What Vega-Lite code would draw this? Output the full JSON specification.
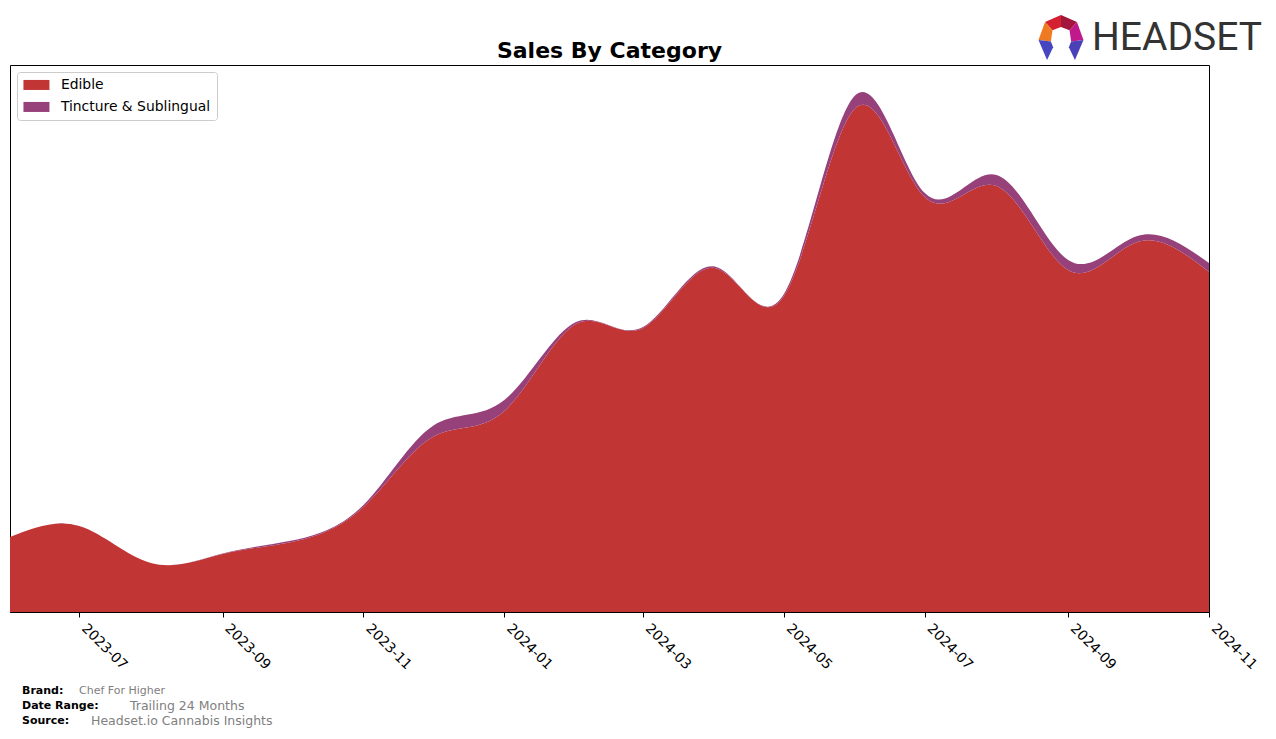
{
  "$schema": "https://vega.github.io/schema/vega-lite/v6.json",
  "width": 1199,
  "height": 547,
  "autosize": "none",
  "padding": {"left": 10, "top": 65, "right": 67, "bottom": 127},
  "background": "white",
  "config": {
    "font": "DejaVu Sans",
    "view": {"stroke": "black", "strokeWidth": 1}
  },
  "title": {
    "text": "Sales By Category",
    "fontSize": 22,
    "fontWeight": "bold",
    "font": "DejaVu Sans",
    "color": "black",
    "anchor": "middle",
    "offset": 8,
    "dy": 56
  },
  "datasets": {
    "sales": [
      {"date": "2023-06-01", "category": "Edible", "sales": 7500},
      {"date": "2023-07-01", "category": "Edible", "sales": 8600},
      {"date": "2023-08-01", "category": "Edible", "sales": 4900},
      {"date": "2023-09-01", "category": "Edible", "sales": 5800},
      {"date": "2023-10-01", "category": "Edible", "sales": 7000},
      {"date": "2023-11-01", "category": "Edible", "sales": 10500},
      {"date": "2023-12-01", "category": "Edible", "sales": 17500},
      {"date": "2024-01-01", "category": "Edible", "sales": 20100},
      {"date": "2024-02-01", "category": "Edible", "sales": 28800},
      {"date": "2024-03-01", "category": "Edible", "sales": 28400},
      {"date": "2024-04-01", "category": "Edible", "sales": 34400},
      {"date": "2024-05-01", "category": "Edible", "sales": 31600},
      {"date": "2024-06-01", "category": "Edible", "sales": 50400},
      {"date": "2024-07-01", "category": "Edible", "sales": 41500},
      {"date": "2024-08-01", "category": "Edible", "sales": 42600},
      {"date": "2024-09-01", "category": "Edible", "sales": 34200},
      {"date": "2024-10-01", "category": "Edible", "sales": 37000},
      {"date": "2024-11-01", "category": "Edible", "sales": 34000},
      {"date": "2023-06-01", "category": "Tincture & Sublingual", "sales": 0},
      {"date": "2023-07-01", "category": "Tincture & Sublingual", "sales": 0},
      {"date": "2023-08-01", "category": "Tincture & Sublingual", "sales": 0},
      {"date": "2023-09-01", "category": "Tincture & Sublingual", "sales": 50},
      {"date": "2023-10-01", "category": "Tincture & Sublingual", "sales": 150},
      {"date": "2023-11-01", "category": "Tincture & Sublingual", "sales": 200},
      {"date": "2023-12-01", "category": "Tincture & Sublingual", "sales": 1100},
      {"date": "2024-01-01", "category": "Tincture & Sublingual", "sales": 1100},
      {"date": "2024-02-01", "category": "Tincture & Sublingual", "sales": 200},
      {"date": "2024-03-01", "category": "Tincture & Sublingual", "sales": 100},
      {"date": "2024-04-01", "category": "Tincture & Sublingual", "sales": 150},
      {"date": "2024-05-01", "category": "Tincture & Sublingual", "sales": 200},
      {"date": "2024-06-01", "category": "Tincture & Sublingual", "sales": 1300},
      {"date": "2024-07-01", "category": "Tincture & Sublingual", "sales": 400},
      {"date": "2024-08-01", "category": "Tincture & Sublingual", "sales": 1100},
      {"date": "2024-09-01", "category": "Tincture & Sublingual", "sales": 1000},
      {"date": "2024-10-01", "category": "Tincture & Sublingual", "sales": 600},
      {"date": "2024-11-01", "category": "Tincture & Sublingual", "sales": 900}
    ],
    "footer": [
      {"label": "Brand:", "value": "Chef For Higher", "row": 0},
      {"label": "Date Range:", "value": "Trailing 24 Months", "row": 1},
      {"label": "Source:", "value": "Headset.io Cannabis Insights", "row": 2}
    ],
    "logo": [
      {"part": "a", "color": "#d42030"},
      {"part": "b", "color": "#a3153a"},
      {"part": "c", "color": "#f07a22"},
      {"part": "d", "color": "#c0198c"},
      {"part": "e", "color": "#4646c0"},
      {"part": "f", "color": "#4a40b8"}
    ]
  },
  "layer": [
    {
      "data": {"name": "sales"},
      "mark": {"type": "area", "interpolate": "natural"},
      "encoding": {
        "x": {
          "field": "date",
          "type": "temporal",
          "timeUnit": "utcyearmonth",
          "scale": {"domain": [{"year": 2023, "month": 6, "date": 1, "utc": true}, {"year": 2024, "month": 11, "date": 1, "utc": true}], "nice": false},
          "axis": {
            "title": null,
            "format": "%Y-%m",
            "tickCount": {"interval": "month", "step": 2},
            "labelAngle": 45,
            "labelAlign": "left",
            "labelBaseline": "top",
            "labelFontSize": 13.9,
            "labelColor": "black",
            "labelPadding": 4,
            "labelOffset": 9,
            "labelFont": "DejaVu Sans",
            "tickColor": "black",
            "tickSize": 5,
            "domainColor": "black",
            "grid": false,
            "labelOverlap": false
          }
        },
        "y": {
          "field": "sales",
          "type": "quantitative",
          "aggregate": "sum",
          "stack": "zero",
          "scale": {"domain": [0, 54700], "nice": false},
          "axis": null
        },
        "color": {
          "field": "category",
          "type": "nominal",
          "scale": {"domain": ["Edible", "Tincture & Sublingual"], "range": ["#c13535", "#97417a"]},
          "legend": {
            "title": null,
            "orient": "top-left",
            "offset": 7,
            "fillColor": "white",
            "strokeColor": "#cccccc",
            "cornerRadius": 3,
            "padding": 6,
            "symbolType": "M-2,-0.77H2V0.77H-2Z",
            "symbolSize": 169,
            "symbolOffset": 6.5,
            "symbolStrokeWidth": 0,
            "symbolOpacity": 1,
            "labelFontSize": 13.9,
            "labelColor": "black",
            "labelFont": "DejaVu Sans",
            "labelOffset": 17.5,
            "rowPadding": 7
          }
        },
        "order": {"field": "category", "sort": "ascending"}
      }
    },
    {
      "data": {"name": "footer"},
      "mark": {"type": "text", "align": "left", "baseline": "middle", "fontSize": 11, "fontWeight": "bold", "color": "black", "x": 12},
      "encoding": {
        "y": {"field": "row", "type": "quantitative", "scale": {"domain": [0, 2], "range": [626, 656]}, "axis": null},
        "text": {"field": "label"}
      }
    },
    {
      "data": {"name": "footer"},
      "transform": [{"calculate": "datum.row == 0 ? 69 : (datum.row == 1 ? 120 : 81)", "as": "xoff"}],
      "mark": {"type": "text", "align": "left", "baseline": "middle", "color": "#808080"},
      "encoding": {
        "x": {"field": "xoff", "type": "quantitative", "scale": {"domain": [0, 1199], "range": [0, 1199]}, "axis": null},
        "y": {"field": "row", "type": "quantitative", "scale": {"domain": [0, 2], "range": [626, 656]}, "axis": null},
        "text": {"field": "value"},
        "size": {"condition": {"test": "datum.row == 0", "value": 11}, "value": 12.5}
      }
    },
    {
      "data": {"values": [{"logo": "HEADSET"}]},
      "mark": {"type": "text", "align": "left", "baseline": "middle", "font": "Roboto", "fontSize": 39, "color": "#333333", "x": 1082, "y": -27},
      "encoding": {"text": {"field": "logo"}}
    },
    {
      "data": {"name": "logo"},
      "mark": {"type": "point", "filled": true, "opacity": 1, "strokeWidth": 0, "size": 2025, "x": 1051, "y": -28},
      "encoding": {
        "shape": {
          "field": "part",
          "type": "nominal",
          "scale": {
            "domain": ["a", "b", "c", "d", "e", "f"],
            "range": [
              "M-0.71,-0.67 L0,-0.98 L0,-0.45 L-0.38,-0.3 Z",
              "M0,-0.98 L0.71,-0.67 L0.38,-0.3 L0,-0.45 Z",
              "M-0.71,-0.67 L-0.38,-0.3 L-0.45,0.2 L-1,0.13 Z",
              "M0.71,-0.67 L1,0.13 L0.45,0.2 L0.38,-0.3 Z",
              "M-1,0.13 L-0.45,0.2 L-0.35,0.45 L-0.62,1.02 Z",
              "M1,0.13 L0.45,0.2 L0.35,0.45 L0.62,1.02 Z"
            ]
          },
          "legend": null
        },
        "fill": {"field": "color", "type": "nominal", "scale": null}
      }
    }
  ],
  "resolve": {"scale": {"y": "independent", "x": "independent", "shape": "independent", "color": "independent"}}
}
